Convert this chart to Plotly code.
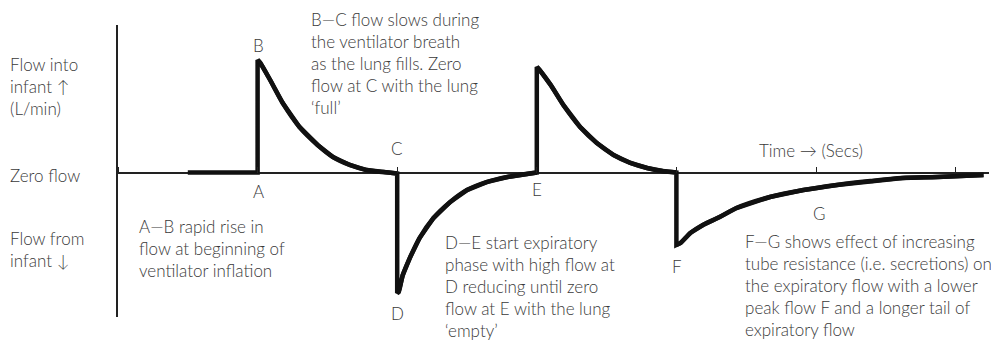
import plotly.graph_objects as go

# ---- data (time in s, flow in L/min, arbitrary scale) ----
time_s = [0.50, 1.00,
          1.00, 1.02, 1.09, 1.18, 1.30, 1.43, 1.54, 1.66, 1.78, 1.90, 2.00,
          2.00, 2.01, 2.04, 2.09, 2.16, 2.26, 2.38, 2.50, 2.64, 2.79, 3.00,
          3.00, 3.02, 3.10, 3.19, 3.31, 3.43, 3.55, 3.67, 3.79, 3.90, 4.00,
          4.00, 4.03, 4.10, 4.19, 4.31, 4.43, 4.67, 4.91, 5.15, 5.39, 5.62, 5.87, 6.20]
flow = [0.00, 0.00,
        7.76, 7.55, 6.38, 4.79, 3.14, 1.90, 1.07, 0.52, 0.17, 0.03, -0.07,
        -8.31, -8.24, -7.07, -5.90, -4.52, -3.14, -2.03, -1.21, -0.66, -0.31, 0.00,
        7.28, 7.07, 6.03, 4.66, 3.14, 2.03, 1.21, 0.66, 0.31, 0.10, 0.00,
        -5.00, -4.86, -4.17, -3.62, -3.07, -2.45, -1.69, -1.21, -0.86, -0.59, -0.38, -0.31, -0.17]

point_labels = ["A", "B", "C", "D", "E", "F", "G"]

left_labels = ["Flow into<br>infant ↑<br>(L/min)", "Zero flow", "Flow from<br>infant ↓"]

notes = [
    "B—C flow slows during<br>the ventilator breath<br>as the lung fills. Zero<br>flow at C with the lung<br>‘full’",
    "A—B rapid rise in<br>flow at beginning of<br>ventilator inflation",
    "D—E start expiratory<br>phase with high flow at<br>D reducing until zero<br>flow at E with the lung<br>‘empty’",
    "F—G shows effect of increasing<br>tube resistance (i.e. secretions) on<br>the expiratory flow with a lower<br>peak flow F and a longer tail of<br>expiratory flow",
]
axis_title = "Time → (Secs)"

# ---- layout geometry (page body has an 8px margin) ----
OFF = 8
W, H = 999 - OFF, 343 - OFF
L, R, T, B = 118 - OFF, 10, 25 - OFF, 26
PW, PH = W - L - R, H - T - B
X_RANGE = [0, PW / 139.6]
Y_RANGE = [(172.5 - 317) / 14.5, (172.5 - 25) / 14.5]


def P(px, py):
    # target-picture pixel -> paper fraction
    return (px - 118) / PW, (317 - py) / PH


TXT = dict(family="Lato, 'Open Sans', sans-serif", size=17, color="#3a3a3a",
           weight=300)
LINE_COLOR = "#111111"

fig = go.Figure()
# whole waveform (gives clean joins at the vertical jumps)
fig.add_trace(go.Scatter(x=time_s, y=flow, mode="lines",
                         line=dict(color=LINE_COLOR, width=4.5),
                         hoverinfo="skip", showlegend=False))

# smooth overlay of each curved run (runs split at the vertical jumps)
starts = [0] + [i for i in range(1, len(time_s)) if time_s[i] == time_s[i - 1]]
ends = starts[1:] + [len(time_s)]
for s, e in zip(starts, ends):
    if e - s > 2:
        fig.add_trace(go.Scatter(x=time_s[s:e], y=flow[s:e], mode="lines",
                                 line=dict(color=LINE_COLOR, width=4.5,
                                           shape="spline", smoothing=0.8),
                                 hoverinfo="skip", showlegend=False))

ann = []


def add(text, px, py, xa="left", ya="middle"):
    x, y = P(px, py)
    ann.append(dict(text=text, x=x, y=y, xref="paper", yref="paper",
                    xanchor=xa, yanchor=ya, align="left", showarrow=False,
                    font=TXT))


# left labels
add(left_labels[0], 8, 87)
add(left_labels[1], 8, 175)
add(left_labels[2], 8, 249)

# point letters
letter_pos = {"A": (258, 191), "B": (258, 45), "C": (397, 148), "D": (397, 313),
              "E": (537, 190), "F": (677, 266), "G": (819, 213)}
for k in point_labels:
    add(k, *letter_pos[k], xa="center")

# notes
add(notes[0], 309, 64)
add(notes[1], 137, 248)
add(notes[2], 443, 286)
add(notes[3], 743, 285)
add(axis_title, 811, 150, xa="center")

fig.update_layout(
    width=W, height=H, margin=dict(l=L, r=R, t=T, b=B),
    paper_bgcolor="white", plot_bgcolor="white",
    annotations=ann,
    xaxis=dict(range=X_RANGE, showgrid=False, zeroline=False, showline=False,
               showticklabels=False, ticks="outside", side="top", anchor="free",
               position=-Y_RANGE[0] / (Y_RANGE[1] - Y_RANGE[0]),
               tickmode="linear", tick0=0, dtick=1, ticklen=6, tickwidth=1.3,
               tickcolor="#222"),
    yaxis=dict(range=Y_RANGE, showgrid=False, zeroline=True, zerolinecolor="#222",
               zerolinewidth=1.5, showline=True, linecolor="#222", linewidth=1.5,
               showticklabels=False, ticks=""),
)

fig.write_html("out.html")
